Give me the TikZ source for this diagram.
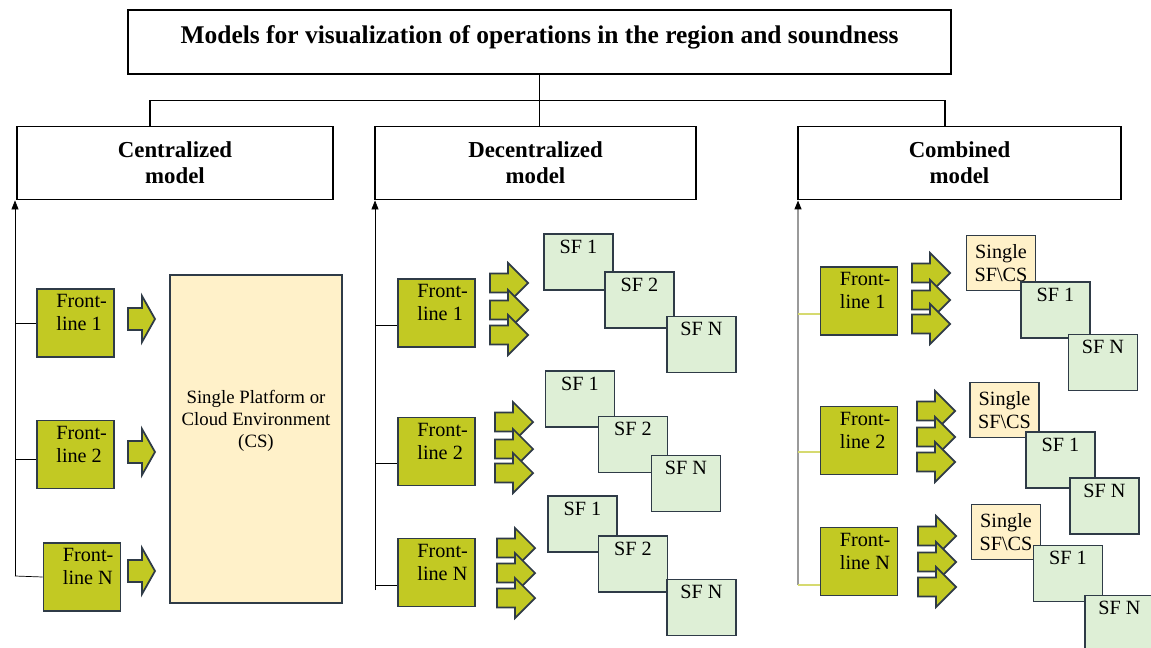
\documentclass[tikz,border=0pt]{standalone}
\usepackage{fontspec}
\setmainfont{Liberation Serif}
\usetikzlibrary{arrows.meta}
\definecolor{olive}{HTML}{C2C923}
\definecolor{cream}{HTML}{FFF1C9}
\definecolor{sfgreen}{HTML}{DEEFD6}
\definecolor{edge}{HTML}{2F3B47}
\definecolor{graybar}{HTML}{9A9A9A}
\definecolor{olivebar}{HTML}{D6DA70}
\tikzset{
  size/.style 2 args={minimum width=#1*0.02cm, minimum height=#2*0.02cm},
  headbox/.style={draw=black, line width=1.1pt, fill=white, align=center,
    font=\fontsize{13}{15}\selectfont\bfseries},
  flbox/.style={draw=edge, fill=olive, line width=1.1pt, size={77}{68}},
  fltxt/.style={anchor=north west, inner sep=0pt, align=left,
    font=\fontsize{11.5}{13.2}\selectfont},
  sfbox/.style={draw=edge, fill=sfgreen, line width=1.1pt, inner ysep=0.1cm,
    minimum width=69*0.02cm, text height=8pt, text depth=0.64cm,
    font=\fontsize{11.5}{13}\selectfont},
  onebox/.style={draw=edge, fill=cream, line width=1.1pt, size={69}{55},
    align=center, inner sep=1pt, font=\fontsize{11.5}{13}\selectfont},
  blockarr/.style={draw=edge, fill=olive, line width=1pt},
  upline/.style={-{Triangle[length=0.18cm,width=0.14cm,black]}},
}
\newcommand{\bigarr}[2]{\draw[blockarr] (#1,#2) ++(0,-11) -- ++(14,0) -- ++(0,-12)
  -- ++(13,23) -- ++(-13,23) -- ++(0,-12) -- ++(-14,0) -- cycle;}
\newcommand{\smallarr}[2]{\draw[blockarr] (#1,#2) ++(0,-9.5) -- ++(18,0) -- ++(0,-10.5)
  -- ++(20,20) -- ++(-20,20) -- ++(0,-10.5) -- ++(-18,0) -- cycle;}
\begin{document}
\begin{tikzpicture}[x=0.02cm,y=-0.02cm]
\useasboundingbox (0,0) rectangle (1151,648);
%top
\node[headbox, size={823}{64}, font=\fontsize{14.5}{16}\selectfont\bfseries, text depth=0.3cm] (title) at (539.5,42)
  {Models for visualization of operations in the region and soundness};
\node[headbox, size={316}{73}] (cen) at (175,163) {Centralized\\model};
\node[headbox, size={321}{73}] (dec) at (535.5,163) {Decentralized\\model};
\node[headbox, size={323}{73}] (com) at (959.5,163) {Combined\\model};
\draw (title.south) -- (title.south |- dec.north);
\draw[line width=0.6pt] ([xshift=-0.5cm]cen.north) -- ++(0,-25) -| ([xshift=-0.29cm]com.north);

%centralized
\node[draw=edge, fill=cream, line width=1.1pt, size={172}{328}] (cs) at (256,439) {};
\node[align=center, font=\fontsize{10.7}{12.4}\selectfont] (cst) at ([yshift=0.36cm]cs.center)
  {Single Platform or\\Cloud Environment\\(CS)};
\node[flbox] (c1) at (75.5,323) {};
\node[flbox] (c2) at (75.5,454.5) {};
\node[flbox] (c3) at (82,577) {};
\node[fltxt] (c1t) at ([shift={(20,6)}]c1.north west) {Front-\\line 1};
\node[fltxt] (c2t) at ([shift={(20,6)}]c2.north west) {Front-\\line 2};
\node[fltxt] (c3t) at ([shift={(20,6)}]c3.north west) {Front-\\line N};
\bigarr{128}{319}
\bigarr{128}{452}
\bigarr{128}{571}
\coordinate (cv) at (15,576);
\draw[upline] (cv) -- (cv |- cen.south);
\draw (cv |- c1.west) -- (c1.west);
\draw ([yshift=-0.1cm]cv |- c2.west) -- ([yshift=-0.1cm]c2.west);
\draw (cv) -- (c3.west);

%decentralized
\node[flbox] (d1) at (436.5,313) {};
\node[flbox] (d2) at (436.5,451.5) {};
\node[flbox] (d3) at (436.5,572.5) {};
\node[fltxt] (d1t) at ([shift={(20,6)}]d1.north west) {Front-\\line 1};
\node[fltxt] (d2t) at ([shift={(20,6)}]d2.north west) {Front-\\line 2};
\node[fltxt] (d3t) at ([shift={(20,6)}]d3.north west) {Front-\\line N};
\foreach \y in {283,310,335}{\smallarr{490}{\y}}
\foreach \y in {422,449,473}{\smallarr{495}{\y}}
\foreach \y in {548,573,598}{\smallarr{497}{\y}}
\node[sfbox] (a1) at (578.5,262) {SF 1};
\node[sfbox] (a2) at (639.5,300) {SF 2};
\node[sfbox] (a3) at (701.5,344.5) {SF N};
\node[sfbox] (b1) at (580,399) {SF 1};
\node[sfbox] (b2) at (633,444.5) {SF 2};
\node[sfbox] (b3) at (686,483.5) {SF N};
\node[sfbox] (e1) at (582.5,524) {SF 1};
\node[sfbox] (e2) at (633,564) {SF 2};
\node[sfbox] (e3) at (701.5,607.5) {SF N};
\coordinate (dv) at (375,590);
\draw[upline] (dv) -- (dv |- dec.south);
\draw ([yshift=-0.24cm]dv |- d1.west) -- ([yshift=-0.24cm]d1.west);
\draw ([yshift=-0.23cm]dv |- d2.west) -- ([yshift=-0.23cm]d2.west);
\draw (dv |- 0,585) -- (d3.west |- 0,585);

%combined
\node[flbox] (m1) at (859,301) {};
\node[flbox] (m2) at (859,440.5) {};
\node[flbox] (m3) at (859,561.5) {};
\node[fltxt] (m1t) at ([shift={(20,6)}]m1.north west) {Front-\\line 1};
\node[fltxt] (m2t) at ([shift={(20,6)}]m2.north west) {Front-\\line 2};
\node[fltxt] (m3t) at ([shift={(20,6)}]m3.north west) {Front-\\line N};
\foreach \y in {273,300,324}{\smallarr{912}{\y}}
\foreach \y in {411,437,462}{\smallarr{917}{\y}}
\foreach \y in {536,562,587}{\smallarr{918}{\y}}
\node[onebox] (s1) at (1001,263) {Single\\SF\textbackslash CS};
\node[sfbox] (s1a) at (1055.5,310) {SF 1};
\node[sfbox] (s1b) at (1103,362.5) {SF N};
\node[onebox] (s2) at (1004.5,410) {Single\\SF\textbackslash CS};
\node[sfbox] (s2a) at (1060.5,460) {SF 1};
\node[sfbox] (s2b) at (1104.5,506) {SF N};
\node[onebox] (s3) at (1006,532) {Single\\SF\textbackslash CS};
\node[sfbox] (s3a) at (1068,573.5) {SF 1};
\node[sfbox] (s3b) at (1119.5,623.5) {SF N};
\coordinate (mv) at (798,585);
\draw[upline, graybar, line width=0.8pt] (mv) -- (mv |- com.south);
\draw[olivebar, line width=0.8pt] (mv |- 0,314) -- (m1.west |- 0,314);
\draw[olivebar, line width=0.8pt] (mv |- 0,452) -- (m2.west |- 0,452);
\draw[olivebar, line width=0.8pt] (mv) -- (m3.west |- mv);
\end{tikzpicture}
\end{document}
